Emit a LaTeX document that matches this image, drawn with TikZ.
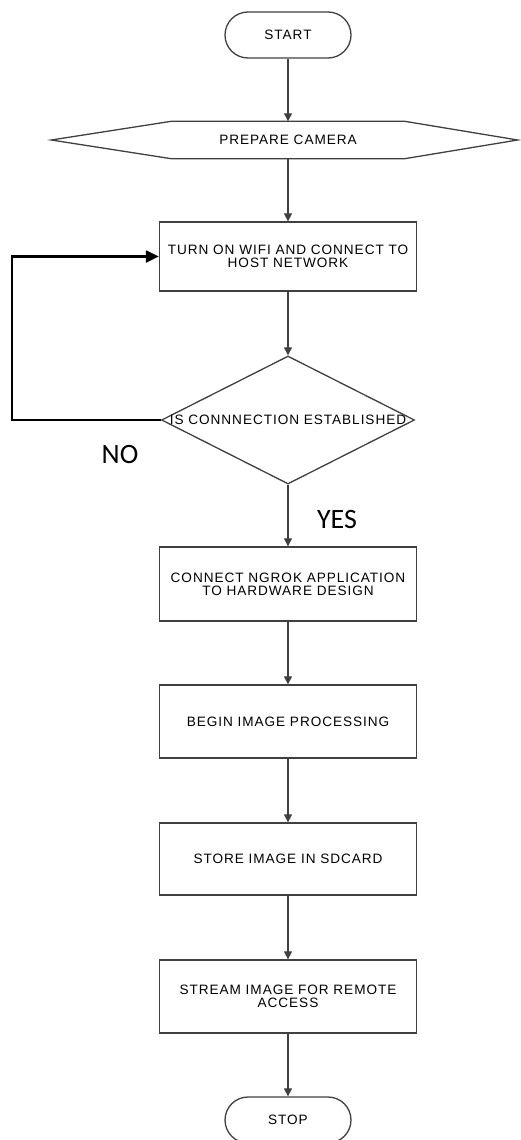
\documentclass[tikz,border=0pt]{standalone}
\usepackage{fontspec}
\setmainfont{Liberation Sans}
\newfontfamily\calib{Carlito}
\usetikzlibrary{arrows.meta,positioning,shapes.geometric,calc}
\definecolor{cLine}{HTML}{404040}
\newcommand\boxfont{\fontsize{13.6}{13}\selectfont\addfontfeature{LetterSpace=7}}
\tikzset{
  blk/.style ={draw=cLine,line width=1.3pt,fill=white,align=center,
               minimum width=257pt,font=\boxfont},
  term/.style={blk,minimum width=126pt,minimum height=46pt,rounded corners=23pt},
  dec/.style ={diamond,draw=cLine,line width=1.3pt,fill=white,inner sep=0pt,
               minimum width=253pt,minimum height=128pt},
  flow/.style={-{Triangle[length=8pt,width=8pt]},draw=cLine,line width=1.2pt},
  back/.style={-{Triangle[length=13pt,width=12pt]},draw=black,line width=2.2pt},
  ans/.style ={font=\calib\fontsize{28}{30}\selectfont},
}

\begin{document}
\begin{tikzpicture}[x=1pt, y=-1pt]
\useasboundingbox (0,0) rectangle (520,1140);

% ===== top: start, camera, wifi ============================================
\node[term] (start) at (288,35) {START};
\node[font=\boxfont,minimum width=233pt,minimum height=37pt] (cam) at (288,140) {PREPARE CAMERA};
\draw[draw=cLine,line width=1.3pt] (cam.north west) -- (cam.north east) -- ($(cam.east)+(113,0)$)
  -- (cam.south east) -- (cam.south west) -- ($(cam.west)+(-120,0)$) -- cycle;
\node[blk,minimum height=69pt] (wifi) at (288,256.5) {TURN ON WIFI AND CONNECT TO\\HOST NETWORK};

% ===== decision ============================================================
\node[dec,label={[font=\boxfont]center:IS CONNNECTION ESTABLISHED}] (conn) at (288,420) {};
\coordinate (loop) at (12,420);
\draw[back] (conn.west) -- (loop) |- (wifi.west);
\node[ans] (no)  at (120,455) {NO};
\node[ans] (yes) at (337,520) {YES};

% ===== remaining steps =====================================================
\node[blk,minimum height=74pt] (ngrok) at (288,584)   {CONNECT NGROK APPLICATION\\TO HARDWARE DESIGN};
\node[blk,minimum height=73pt] (proc)  at (288,721.5) {BEGIN IMAGE PROCESSING};
\node[blk,minimum height=72pt] (store) at (288,859)   {STORE IMAGE IN SDCARD};
\node[blk,minimum height=73pt] (strm)  at (288,996.5) {STREAM IMAGE FOR REMOTE\\ACCESS};
\node[term] (stop) at (288,1120) {STOP};

\foreach \a/\b in {start/cam, cam/wifi, wifi/conn, conn/ngrok, ngrok/proc, proc/store, store/strm, strm/stop}
  {\draw[flow] (\a.south) -- (\b.north);}
\end{tikzpicture}
\end{document}
